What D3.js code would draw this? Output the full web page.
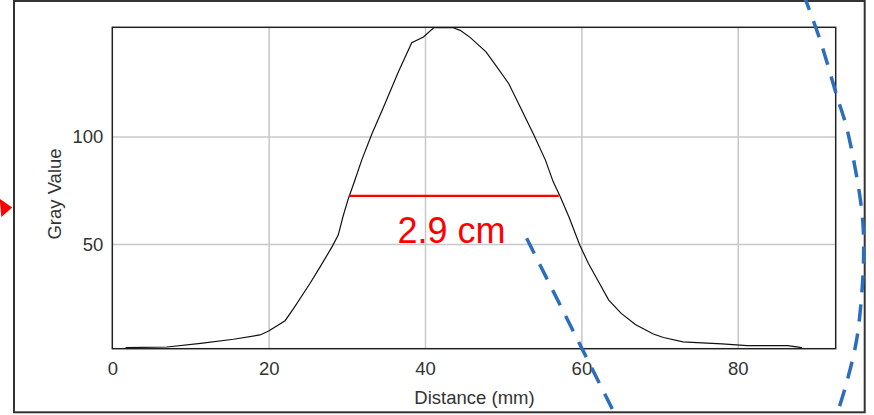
<!doctype html>
<html>
<head>
    <meta charset="utf-8"/>
    <style>
        html, body { margin: 0; padding: 0; background: #fff; }
        svg { display: block; }
        .tick text { font-family: "Liberation Sans", Arial, sans-serif; font-size: 18.5px; fill: #333; }
        .label { font-family: "Liberation Sans", Arial, sans-serif; font-size: 18.5px; fill: #333; }
    </style>
    <script src="https://d3js.org/d3.v7.min.js"></script>
</head>
<body>
<svg width="874" height="415"></svg>
<script>
    // profile data (distance in mm, gray value)
    var distance = [1.7, 7.0, 11.3, 15.5, 18.9, 20.0, 22.1, 23.2, 25.3, 26.6, 28.1, 28.9, 29.5, 30.2, 31.05, 31.9,
        33.2, 34.7, 36.6, 38.3, 39.8, 41.1, 42.4, 43.6, 44.5, 45.8, 47.8, 48.8, 50.7, 52.3, 54.0, 55.4, 56.4,
        57.3, 58.4, 59.8, 60.9, 62.2, 63.5, 65.1, 66.9, 69.2, 70.5, 73.0, 74.8, 78.0, 81.2, 86.4, 88.2];
    var grayValue = [1.9, 2.2, 3.9, 5.8, 7.8, 9.6, 14.4, 20.1, 31.8, 39.5, 48.7, 54.2, 62.7, 71.2, 79.9, 89.0,
        101.1, 113.7, 130.0, 143.5, 146.2, 150.5, 150.6, 150.5, 149.3, 145.9, 139.3, 134.3, 124.6, 112.7, 100.1,
        89.0, 78.9, 72.0, 62.7, 49.5, 41.0, 32.5, 24.0, 17.8, 12.6, 8.2, 6.6, 4.6, 4.2, 3.6, 2.8, 2.8, 1.9];

    var xTicks = [0, 20, 40, 60, 80];
    var xGrid = [20, 40, 60, 80];
    var yTicks = [50, 100];

    // full width at half max marker
    var fwhmX = [30.3, 57.1];
    var fwhmY = 72.4;
    var fwhmText = "2.9 cm";

    // annotations drawn over the chart (in data units)
    var slashX = [53.0, 64.6];
    var slashY = [52.7, -31.3];
    var arcX = [88.4, 90.5, 92.7, 93.9, 95.4, 96.0, 96.1, 95.9, 95.2, 93.9, 92.7, 92.3];
    var arcY = [166.2, 145.2, 118.5, 104.5, 77.4, 60.3, 44.9, 28.7, 5.4, -14.7, -28.6, -31.7];
    var arrowX = [-14.4, -12.8, -14.2];
    var arrowY = [71.0, 67.0, 62.6];

    var svg = d3.select("svg");
    var pLeft = 112.3, pRight = 835.7, pTop = 27.3, pBottom = 348.7;

    var x = d3.scaleLinear().domain([0, 92.53]).range([pLeft, pRight]);
    var y = d3.scaleLinear().domain([1.4, 150.7]).range([pBottom, pTop]);

    // outer frame
    svg.append("rect")
        .attr("x", 14).attr("y", 1).attr("width", 850.7).attr("height", 411.3)
        .attr("fill", "none").attr("stroke", "#333").attr("stroke-width", 2);

    // grid
    var gx = svg.append("g")
        .attr("transform", "translate(0," + pBottom + ")")
        .call(d3.axisBottom(x).tickValues(xGrid).tickSize(-(pBottom - pTop)).tickFormat(""));
    var gy = svg.append("g")
        .attr("transform", "translate(" + pLeft + ",0)")
        .call(d3.axisLeft(y).tickValues(yTicks).tickSize(-(pRight - pLeft)).tickFormat(""));
    [gx, gy].forEach(function(g) {
        g.select(".domain").remove();
        g.selectAll("line").attr("stroke", "#c8c8c8").attr("stroke-width", 1.5);
    });

    // tick labels
    var ax = svg.append("g")
        .attr("transform", "translate(0," + pBottom + ")")
        .call(d3.axisBottom(x).tickValues(xTicks).tickSize(0).tickPadding(13));
    ax.select(".domain").remove();
    ax.attr("font-family", null).attr("font-size", null);

    var ay = svg.append("g")
        .attr("transform", "translate(" + pLeft + ",0)")
        .call(d3.axisLeft(y).tickValues(yTicks).tickSize(0).tickPadding(9));
    ay.select(".domain").remove();
    ay.attr("font-family", null).attr("font-size", null);

    // plot frame
    svg.append("rect")
        .attr("x", pLeft).attr("y", pTop).attr("width", pRight - pLeft).attr("height", pBottom - pTop)
        .attr("fill", "none").attr("stroke", "#222").attr("stroke-width", 1.5);

    // profile line
    var pts = distance.map(function(d, i) { return [d, grayValue[i]]; });
    svg.append("path")
        .datum(pts)
        .attr("fill", "none")
        .attr("stroke", "#111")
        .attr("stroke-width", 1.2)
        .attr("d", d3.line().x(function(d) { return x(d[0]); }).y(function(d) { return y(d[1]); }));

    // axis titles
    svg.append("text").attr("class", "label")
        .attr("x", (pLeft + pRight) / 2 + 0.5).attr("y", 404)
        .attr("text-anchor", "middle")
        .text("Distance (mm)");
    svg.append("text").attr("class", "label")
        .attr("transform", "translate(61,194) rotate(-90)")
        .attr("text-anchor", "middle")
        .text("Gray Value");

    // FWHM marker
    svg.append("line")
        .attr("x1", x(fwhmX[0])).attr("x2", x(fwhmX[1]))
        .attr("y1", y(fwhmY)).attr("y2", y(fwhmY))
        .attr("stroke", "#ff0000").attr("stroke-width", 2.2);
    svg.append("text")
        .attr("x", x(43.4)).attr("y", y(50.6))
        .attr("text-anchor", "middle")
        .attr("font-family", "Liberation Sans, Arial, sans-serif")
        .attr("font-size", 36)
        .attr("fill", "#ff0000")
        .text(fwhmText);

    // red arrow head at the left
    svg.append("path")
        .attr("fill", "#ff0000")
        .attr("d", d3.line()(arrowX.map(function(d, i) { return [x(d), y(arrowY[i])]; })) + "Z");

    // blue dashed annotations
    var blue = "rgb(44,110,190)";
    svg.append("path")
        .attr("fill", "none").attr("stroke", blue).attr("stroke-width", 3.5)
        .attr("stroke-dasharray", "17,12")
        .attr("d", d3.line()(slashX.map(function(d, i) { return [x(d), y(slashY[i])]; })));
    svg.append("path")
        .attr("fill", "none").attr("stroke", blue).attr("stroke-width", 3.5)
        .attr("stroke-dasharray", "17,12")
        .attr("d", d3.line().curve(d3.curveCatmullRom)(arcX.map(function(d, i) { return [x(d), y(arcY[i])]; })));
</script>
</body>
</html>
